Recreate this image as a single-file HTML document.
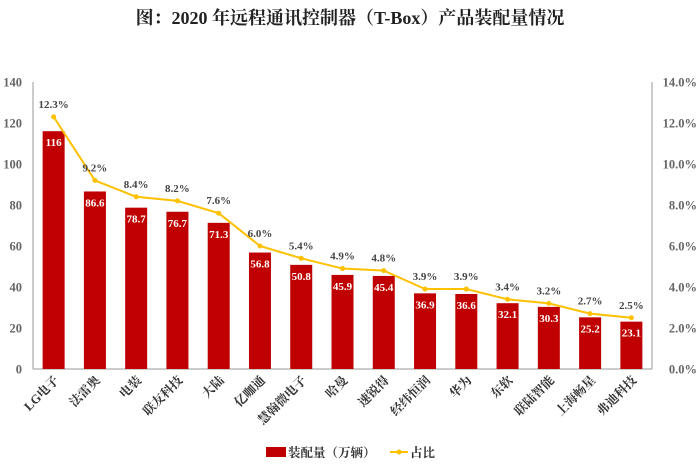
<!DOCTYPE html>
<html><head><meta charset="utf-8">
<style>
body{margin:0;background:#fff;width:700px;height:469px;overflow:hidden;font-family:"Liberation Serif","Noto Serif CJK SC",serif;}
svg text{font-family:"Liberation Serif","Noto Serif CJK SC",serif;}
</style></head><body>
<svg id="chart" width="700" height="469" xmlns="http://www.w3.org/2000/svg">
<text x="350" y="24" text-anchor="middle" font-size="18" font-weight="bold" fill="#222">图：2020 年远程通讯控制器（T-Box）产品装配量情况</text>
<g id="plot"></g>
</svg>
<script>
const categories=["LG电子","法雷奥","电装","联友科技","大陆","亿咖通","慧翰微电子","哈曼","速锐得","经纬恒润","华为","东软","联陆智能","上海畅星","弗迪科技"];
const volumes=[116,86.6,78.7,76.7,71.3,56.8,50.8,45.9,45.4,36.9,36.6,32.1,30.3,25.2,23.1];
const shares=[12.3,9.2,8.4,8.2,7.6,6.0,5.4,4.9,4.8,3.9,3.9,3.4,3.2,2.7,2.5];
const leftTicks=[0,20,40,60,80,100,120,140];
const rightTicks=[0,2,4,6,8,10,12,14];

const NS="http://www.w3.org/2000/svg";
const g=document.getElementById('plot');
const X0=33,X1=652,Y0=369,Y1=82;
const band=(X1-X0)/categories.length;
const xc=i=>X0+band*(i+0.5);
const yL=v=>Y0-(v/140)*(Y0-Y1);
const yR=v=>Y0-(v/14)*(Y0-Y1);
function mk(tag,attrs,txt){const e=document.createElementNS(NS,tag);for(const k in attrs)e.setAttribute(k,attrs[k]);if(txt!==undefined)e.textContent=txt;g.appendChild(e);return e;}

let e=mk('line',{x1:X0,y1:Y1,x2:X0,y2:Y0,stroke:'#999'});

e=mk('line',{x1:X1,y1:Y1,x2:X1,y2:Y0,stroke:'#999'});

e=mk('line',{x1:X0,y1:Y0,x2:X1,y2:Y0,stroke:'#999'});


leftTicks.forEach(v=>{
 const t=mk('text',{x:22,y:yL(v)+4.5,'text-anchor':'end','font-size':12.5,'font-weight':'bold',fill:'#666'},v);
 
});
rightTicks.forEach(v=>{
 const t=mk('text',{x:697,y:yR(v)+4.5,'text-anchor':'end','font-size':12.5,'font-weight':'bold',fill:'#666'},v.toFixed(1)+'%');
 
});

volumes.forEach((v,i)=>{
 const r=mk('rect',{x:xc(i)-11,y:yL(v),width:22,height:Y0-yL(v),fill:'#c00000'});
 
 const t=mk('text',{x:xc(i),y:yL(v)+15,'text-anchor':'middle','font-size':11,'font-weight':'bold',fill:'#fff'},v);
 
 const c=mk('text',{'text-anchor':'end','font-size':12.5,'font-weight':'bold',fill:'#333',transform:`translate(${xc(i)+6},${Y0+12}) rotate(-45)`},categories[i]);
 
});

const pts=shares.map((s,i)=>xc(i)+','+yR(s)).join(' ');
e=mk('polyline',{points:pts,fill:'none',stroke:'#ffc000','stroke-width':2});

shares.forEach((s,i)=>{
 const c=mk('circle',{cx:xc(i),cy:yR(s),r:2.5,fill:'#ffc000'});
 
 const t=mk('text',{x:xc(i),y:yR(s)-9,'text-anchor':'middle','font-size':11,'font-weight':'bold',fill:'#444'},s.toFixed(1)+'%');
 
});

e=mk('rect',{x:266,y:447,width:20,height:10,fill:'#c00000'});

e=mk('text',{x:288,y:457,'font-size':12.5,'font-weight':'bold',fill:'#333'},'装配量（万辆）');

e=mk('line',{x1:390,y1:452,x2:408,y2:452,stroke:'#ffc000','stroke-width':2});

e=mk('circle',{cx:399,cy:452,r:2.5,fill:'#ffc000'});

e=mk('text',{x:410,y:457,'font-size':12.5,'font-weight':'bold',fill:'#333'},'占比');

</script>
</body></html>
